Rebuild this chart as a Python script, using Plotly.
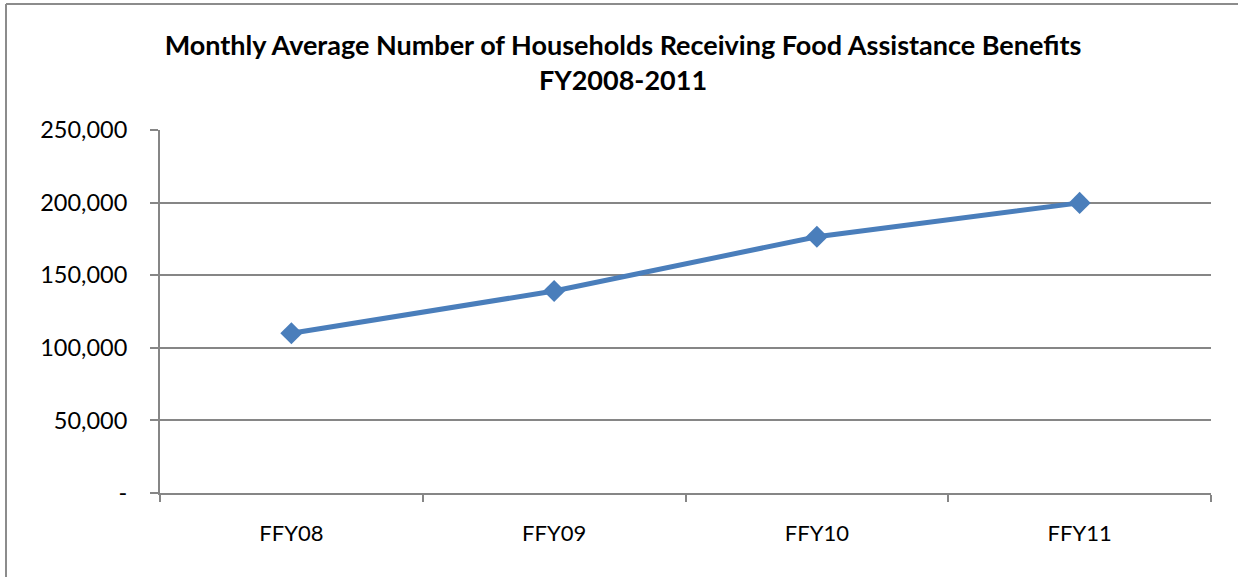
import plotly.graph_objects as go

categories = ["FFY08", "FFY09", "FFY10", "FFY11"]
households = [110000, 139100, 176500, 199800]
y_tickvals = [0, 50000, 100000, 150000, 200000, 250000]
y_ticktext = ["-", "50,000", "100,000", "150,000", "200,000", "250,000"]

W, H = 1238, 577
L, R, T, B = 160, 27, 130, 84
pw = W - L - R
ph = H - T - B

fig = go.Figure()
fig.add_trace(go.Scatter(
    x=categories, y=households, mode="lines+markers",
    line=dict(color="#4A7EBB", width=5),
    marker=dict(symbol="diamond", size=17, color="#4A7EBB"),
    showlegend=False, hoverinfo="x+y",
))

font = "Lato, 'Open Sans', sans-serif"
fig.update_layout(
    width=W, height=H,
    margin=dict(l=L, r=R, t=T, b=B),
    paper_bgcolor="white", plot_bgcolor="white",
    font=dict(family=font, size=24, color="black"),
    title=dict(
        text="<b>Monthly Average Number of Households Receiving Food Assistance Benefits<br>FY2008-2011</b>",
        x=623 / W, xanchor="center", y=1 - 55 / H, yanchor="middle",
        font=dict(family=font, size=27, color="black"),
    ),
    xaxis=dict(
        type="category", tickson="boundaries", ticks="outside", ticklen=7,
        tickcolor="#868686", tickwidth=2, showline=True, linecolor="#868686", linewidth=2,
        showgrid=False, range=[-0.5, 3.5], ticklabelstandoff=20,
        tickfont=dict(size=22),
    ),
    yaxis=dict(
        range=[0, 250000], tickvals=y_tickvals, ticktext=y_ticktext,
        ticks="outside", ticklen=8, tickcolor="#868686", tickwidth=2,
        showline=True, linecolor="#868686", linewidth=2,
        showgrid=True, gridcolor="#868686", gridwidth=1.5, zeroline=False,
        ticklabelstandoff=18, tickfont=dict(size=23.5),
    ),
    shapes=[
        dict(type="line", xref="paper", yref="paper",
             x0=(6 - L) / pw, x1=(W + 5 - L) / pw,
             y0=1 + (T - 4) / ph, y1=1 + (T - 4) / ph,
             line=dict(color="#8C8C8C", width=2)),
        dict(type="line", xref="paper", yref="paper",
             x0=(6 - L) / pw, x1=(6 - L) / pw,
             y0=1 + (T - 4) / ph, y1=-(B + 5) / ph,
             line=dict(color="#8C8C8C", width=2)),
    ],
)

fig.write_html("out.html")
